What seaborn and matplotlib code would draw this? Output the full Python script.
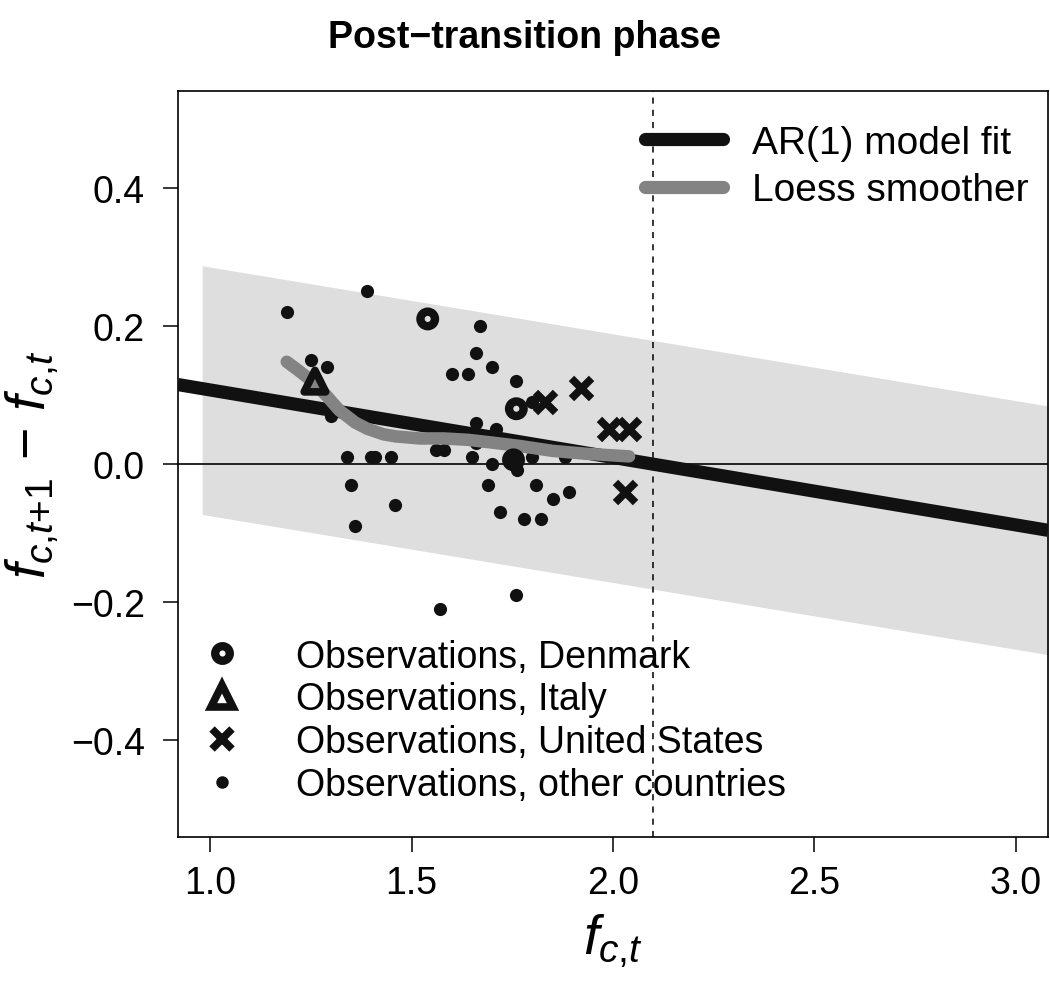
import numpy as np
import matplotlib
matplotlib.use("Agg")
import matplotlib.pyplot as plt
import seaborn as sns
from matplotlib.lines import Line2D

# Observations
other_x = [1.19, 1.39, 1.25, 1.29, 1.30, 1.34, 1.40, 1.41, 1.45, 1.35, 1.46, 1.36,
           1.67, 1.66, 1.70, 1.60, 1.64, 1.76, 1.80,
           1.66, 1.71, 1.66, 1.56, 1.58, 1.65, 1.70, 1.80, 1.88, 1.753, 1.762,
           1.69, 1.81, 1.85, 1.89, 1.72, 1.78, 1.82, 1.76, 1.57]
other_y = [0.22, 0.25, 0.15, 0.14, 0.07, 0.01, 0.01, 0.01, 0.01, -0.03, -0.06, -0.09,
           0.20, 0.16, 0.14, 0.13, 0.13, 0.12, 0.09,
           0.06, 0.05, 0.03, 0.02, 0.02, 0.01, 0.00, 0.01, 0.01, 0.006, -0.008,
           -0.03, -0.03, -0.05, -0.04, -0.07, -0.08, -0.08, -0.19, -0.21]
denmark_x = [1.54, 1.76, 1.753]
denmark_y = [0.21, 0.08, 0.006]
italy_x = [1.26]
italy_y = [0.12]
us_x = [1.92, 1.83, 1.99, 2.04, 2.03]
us_y = [0.11, 0.09, 0.05, 0.05, -0.04]

# AR(1) fit and its prediction band
ar_x = [0.92, 3.08]
ar_y = [0.115, -0.096]
band_x = [0.98, 3.08]
band_lo = [-0.073, -0.276]
band_hi = [0.287, 0.084]

# Loess smoother
loess_x = [1.19, 1.22, 1.255, 1.29, 1.32, 1.36, 1.39, 1.43, 1.46, 1.52, 1.58,
           1.64, 1.70, 1.77, 1.85, 1.93, 2.04]
loess_y = [0.148, 0.135, 0.119, 0.098, 0.078, 0.060, 0.051, 0.043, 0.040, 0.037, 0.037,
           0.035, 0.031, 0.026, 0.019, 0.015, 0.011]

x_ticks = [1.0, 1.5, 2.0, 2.5, 3.0]
y_ticks = [-0.4, -0.2, 0.0, 0.2, 0.4]

sns.set_style("ticks")
plt.rcParams["font.family"] = ["Liberation Sans", "DejaVu Sans"]
plt.rcParams["mathtext.fontset"] = "custom"
plt.rcParams["mathtext.it"] = "Liberation Sans:italic"
plt.rcParams["mathtext.rm"] = "Liberation Sans"
plt.rcParams["text.color"] = "black"
plt.rcParams["axes.labelcolor"] = "black"

fig = plt.figure(figsize=(10.5, 9.95), dpi=100)
ax = fig.add_axes([178 / 1050, 157 / 995, 870 / 1050, 746 / 995])

ax.fill_between(band_x, band_lo, band_hi, color="#dedede", lw=0, zorder=0)
ax.axhline(0, color="black", lw=1.2, zorder=1)
ax.axvline(2.1, color="black", lw=1.1, linestyle=(0, (4, 4)), zorder=1)

# dots first, then the fitted lines, then the highlighted countries
sns.scatterplot(x=other_x, y=other_y, color="#111111", s=90, linewidth=0, ax=ax, zorder=2)
sns.lineplot(x=ar_x, y=ar_y, color="#111111", linewidth=9.5, ax=ax, zorder=3,
             solid_capstyle="butt")
sns.lineplot(x=loess_x, y=loess_y, color="#838383", linewidth=9, ax=ax, zorder=4,
             solid_capstyle="round")
sns.scatterplot(x=denmark_x, y=denmark_y, marker="o", s=110, facecolor="none",
                edgecolor="#111111", linewidth=6, ax=ax, zorder=5)
sns.scatterplot(x=italy_x, y=italy_y, marker="^", s=240, facecolor="none",
                edgecolor="#111111", linewidth=5.5, ax=ax, zorder=5)
sns.scatterplot(x=us_x, y=us_y, marker="x", s=210, color="#111111", edgecolor=None,
                linewidth=5.5, ax=ax, zorder=5)

ax.set_xlim(0.92, 3.08)
ax.set_ylim(-0.54, 0.54)
ax.set_xticks(x_ticks, [f"{v:.1f}" for v in x_ticks])
ax.set_yticks(y_ticks, [f"{v:.1f}".replace("-", "\u2212") for v in y_ticks])
ax.tick_params(direction="out", length=11, width=1.1, labelsize=27, color="black",
               labelcolor="black")
ax.tick_params(axis="y", pad=13)
ax.tick_params(axis="x", pad=9)
for sp in ax.spines.values():
    sp.set_visible(True)
    sp.set_linewidth(1.2)
    sp.set_color("black")

ax.set_xlabel(r"$f_{c{,}t}$", fontsize=40)
ax.set_ylabel(r"$f_{c{,}t{+}1}\,-\,f_{c{,}t}$", fontsize=40)
ax.xaxis.set_label_coords(0.5, -0.1)
ax.yaxis.set_label_coords(-0.135, 0.5)

fig.suptitle("Post\u2212transition phase", x=0.5, y=1 - 20 / 995, va="top",
             fontsize=27, fontweight="bold")

# legends
line_handles = [
    Line2D([], [], color="#111111", lw=9.5, solid_capstyle="round"),
    Line2D([], [], color="#838383", lw=9.5, solid_capstyle="round"),
]
leg1 = ax.legend(line_handles, ["AR(1) model fit", "Loess smoother"],
                 loc="upper left", bbox_to_anchor=(0.537, 0.955), frameon=False,
                 fontsize=28, handlelength=2.0, handletextpad=0.75,
                 labelspacing=0.3, borderpad=0, borderaxespad=0)
ax.add_artist(leg1)

pt_handles = [
    Line2D([], [], ls="none", marker="o", ms=10.5, mfc="none", mec="#111111", mew=6),
    Line2D([], [], ls="none", marker="^", ms=15.5, mfc="none", mec="#111111", mew=5.5),
    Line2D([], [], ls="none", marker="x", ms=14, mec="#111111", mew=5.5),
    Line2D([], [], ls="none", marker="o", ms=9, mfc="#111111", mec="#111111", mew=0),
]
ax.legend(pt_handles, ["Observations, Denmark", "Observations, Italy",
                       "Observations, United States", "Observations, other countries"],
          loc="upper left", bbox_to_anchor=(0.008, 0.266), frameon=False,
          fontsize=27, handlelength=2.0, handletextpad=0.95,
          labelspacing=0.18, borderpad=0, borderaxespad=0)

fig.savefig("out.png", dpi=100)
